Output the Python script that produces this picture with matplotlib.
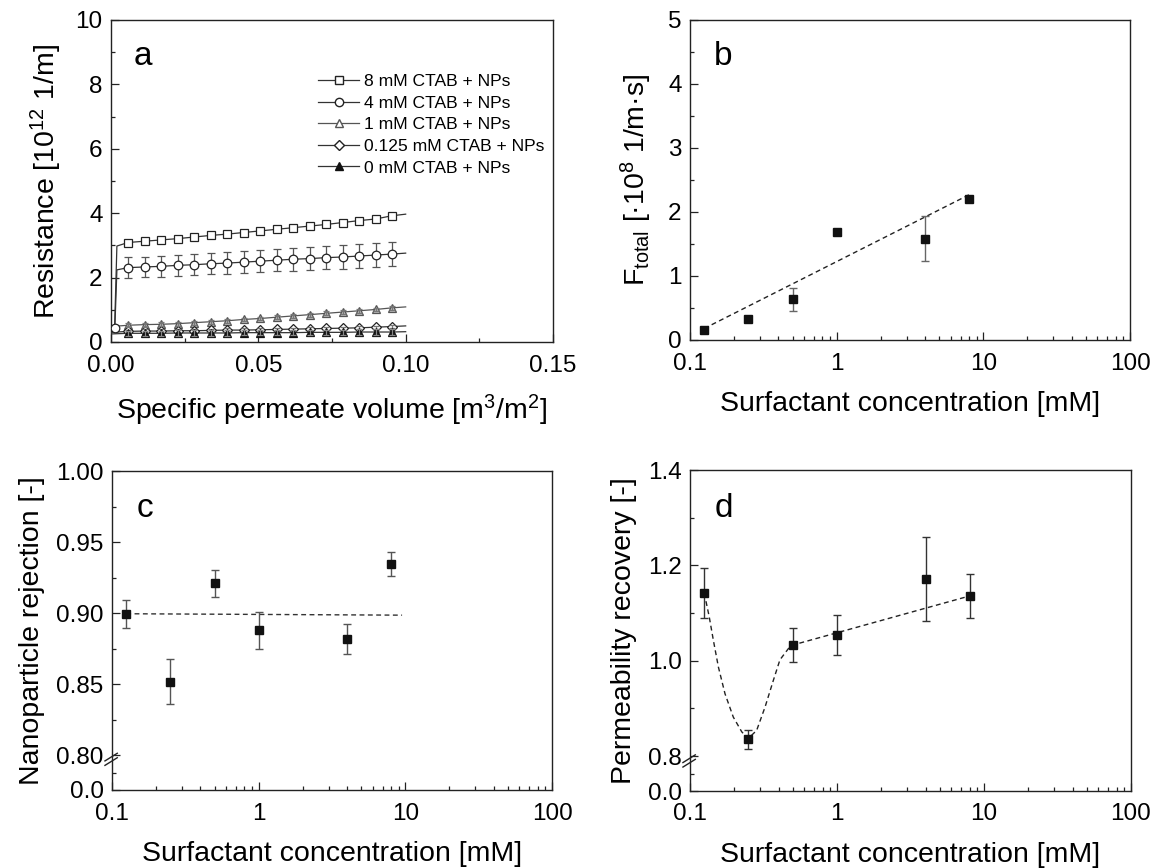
import numpy as np
import matplotlib
matplotlib.use("Agg")
import matplotlib.pyplot as plt
from matplotlib.lines import Line2D
from matplotlib.ticker import MultipleLocator, LogLocator, NullFormatter, FixedLocator

plt.rcParams['font.family'] = ['Liberation Sans', 'DejaVu Sans']
plt.rcParams['mathtext.fontset'] = 'custom'
plt.rcParams['mathtext.rm'] = 'Liberation Sans'
plt.rcParams['mathtext.it'] = 'Liberation Sans'
plt.rcParams['mathtext.default'] = 'regular'

# ---------------- Panel a data ----------------
vol_markers = [0.0058, 0.0114, 0.0170, 0.0226, 0.0282, 0.0338, 0.0394, 0.0450, 0.0506,
               0.0562, 0.0618, 0.0674, 0.0730, 0.0786, 0.0842, 0.0898, 0.0953]
vol_end = 0.100

R_8 = [3.09, 3.13, 3.17, 3.21, 3.26, 3.31, 3.35, 3.40, 3.45, 3.50, 3.55, 3.60, 3.65,
       3.71, 3.77, 3.82, 3.92]
R_8_start_x = [0.0012, 0.0020]
R_8_start_y = [0.35, 2.98]
R_8_end = 3.97

R_4 = [2.31, 2.33, 2.35, 2.38, 2.40, 2.43, 2.45, 2.48, 2.51, 2.54, 2.57, 2.59, 2.62,
       2.64, 2.67, 2.70, 2.73]
R_4_err = [0.32, 0.32, 0.32, 0.33, 0.33, 0.33, 0.33, 0.34, 0.34, 0.34, 0.35, 0.35, 0.35,
           0.36, 0.36, 0.36, 0.37]
R_4_start_x = [0.0013, 0.0020]
R_4_start_y = [0.43, 2.24]
R_4_end = 2.76

R_1 = [0.52, 0.54, 0.55, 0.57, 0.60, 0.63, 0.66, 0.70, 0.73, 0.77, 0.81, 0.85, 0.89,
       0.93, 0.97, 1.01, 1.06]
R_1_err = [0.06] * 17
R_1_start = 0.48
R_1_end = 1.09

R_0125 = [0.33, 0.34, 0.34, 0.35, 0.35, 0.36, 0.37, 0.37, 0.38, 0.39, 0.40, 0.41, 0.42,
          0.43, 0.44, 0.46, 0.48]
R_0125_err = [0.05] * 17
R_0125_start = 0.30
R_0125_end = 0.50

R_0 = [0.27, 0.27, 0.27, 0.28, 0.28, 0.28, 0.28, 0.29, 0.29, 0.29, 0.29, 0.30, 0.30,
       0.30, 0.31, 0.31, 0.31]
R_0_err = [0.08] * 17
R_0_start = 0.25
R_0_end = 0.32

legend_labels = ['8 mM CTAB + NPs', '4 mM CTAB + NPs', '1 mM CTAB + NPs',
                 '0.125 mM CTAB + NPs', '0 mM CTAB + NPs']

# ---------------- Panels b-d data ----------------
conc = [0.125, 0.25, 0.5, 1.0, 4.0, 8.0]

F_total = [0.16, 0.33, 0.64, 1.68, 1.58, 2.21]
F_total_err = [0.0, 0.0, 0.18, 0.0, 0.35, 0.0]
F_fit_x = [0.125, 8.0]
F_fit_y = [0.18, 2.27]

rejection = [0.8995, 0.8516, 0.9210, 0.8878, 0.8817, 0.9344]
rejection_err = [0.010, 0.016, 0.0095, 0.013, 0.0105, 0.0086]
rej_fit_x = [0.125, 9.5]
rej_fit_y = [0.8995, 0.8985]

recovery = [1.142, 0.835, 1.033, 1.054, 1.171, 1.136]
recovery_err = [0.052, 0.019, 0.035, 0.041, 0.088, 0.047]
rec_curve_x = [0.125, 0.135, 0.144, 0.156, 0.173, 0.197, 0.225, 0.249, 0.284, 0.324,
               0.369, 0.409, 0.479, 0.5, 8.0]
rec_curve_y = [1.142, 1.093, 1.044, 0.987, 0.931, 0.882, 0.851, 0.837, 0.854, 0.903,
               0.959, 1.002, 1.030, 1.033, 1.136]

# ---------------- Figure ----------------
fig = plt.figure(figsize=(11.51, 8.68), dpi=100)
W, H = 1151, 868

def add_ax(l, r, t, b):
    return fig.add_axes([l / W, (H - b) / H, (r - l) / W, (b - t) / H])

axA = add_ax(111, 553, 20, 342)
axB = add_ax(690, 1130, 20, 340)
axC = add_ax(112, 552, 471, 790)
axD = add_ax(690, 1131, 470, 791)

TICK_FS = 17.5
LABEL_FS = 20.5
LETTER_FS = 24

for ax in (axA, axB, axC, axD):
    for s in ax.spines.values():
        s.set_linewidth(1.0)
        s.set_color('#222222')
    ax.tick_params(which='both', direction='in', top=False, right=False,
                   labelsize=TICK_FS, width=0.9, color='#222222')
    ax.tick_params(axis='x', which='both', pad=9)
    ax.tick_params(axis='y', which='both', pad=6)
    ax.tick_params(which='major', length=5.5)
    ax.tick_params(which='minor', length=2.8)

LC = '#333333'
EC = '#555555'

# ---- Panel a ----
def series_line(sx, sy, ys, yend):
    return list(sx) + list(vol_markers) + [vol_end], list(sy) + list(ys) + [yend]

lx, ly = series_line(R_8_start_x, R_8_start_y, R_8, R_8_end)
axA.plot(lx, ly, color=LC, lw=0.9, zorder=3)
axA.plot(vol_markers, R_8, ls='none', marker='s', ms=5.2, mfc='white', mec='#222222',
         mew=0.9, zorder=4)

lx, ly = series_line(R_4_start_x, R_4_start_y, R_4, R_4_end)
axA.plot(lx, ly, color=LC, lw=0.9, zorder=3)
axA.errorbar(vol_markers, R_4, yerr=R_4_err, fmt='none', ecolor=EC, elinewidth=0.9,
             capsize=2.6, capthick=0.9, zorder=3)
axA.plot(vol_markers, R_4, ls='none', marker='o', ms=6.2, mfc='white', mec='#222222',
         mew=0.9, zorder=4)
axA.plot([R_4_start_x[0]], [R_4_start_y[0]], ls='none', marker='o', ms=6.2, mfc='white',
         mec='#222222', mew=0.9, zorder=4)

lx, ly = series_line([0.0], [R_1_start], R_1, R_1_end)
axA.plot(lx, ly, color='#555555', lw=0.9, zorder=3)
axA.plot(vol_markers, R_1, ls='none', marker='^', ms=6.0, mfc='#bbbbbb', mec='#555555',
         mew=0.9, zorder=4)
axA.errorbar(vol_markers, R_1, yerr=R_1_err, fmt='none', ecolor='#777777', elinewidth=0.9,
             capsize=2.4, capthick=0.9, zorder=5)

lx, ly = series_line([0.0], [R_0125_start], R_0125, R_0125_end)
axA.plot(lx, ly, color=LC, lw=0.9, zorder=3)
axA.plot(vol_markers, R_0125, ls='none', marker='D', ms=4.6, mfc='white', mec='#222222',
         mew=0.9, zorder=4)
axA.errorbar(vol_markers, R_0125, yerr=R_0125_err, fmt='none', ecolor='#777777',
             elinewidth=0.9, capsize=2.4, capthick=0.9, zorder=5)

lx, ly = series_line([0.0], [R_0_start], R_0, R_0_end)
axA.plot(lx, ly, color=LC, lw=0.9, zorder=3)
axA.plot(vol_markers, R_0, ls='none', marker='^', ms=6.0, mfc='#111111', mec='#111111',
         mew=0.9, zorder=6)
axA.errorbar(vol_markers, R_0, yerr=R_0_err, fmt='none', ecolor='#888888', elinewidth=0.9,
             capsize=2.4, capthick=0.9, zorder=7)

axA.set_xlim(0, 0.15)
axA.set_ylim(0, 10)
axA.xaxis.set_major_locator(MultipleLocator(0.05))
axA.xaxis.set_minor_locator(MultipleLocator(0.025))
axA.yaxis.set_major_locator(MultipleLocator(2))
axA.yaxis.set_minor_locator(MultipleLocator(1))
axA.set_xticks([0.0, 0.05, 0.10, 0.15])
axA.set_xticklabels(['0.00', '0.05', '0.10', '0.15'])
axA.set_xlabel('Specific permeate volume [m$^3$/m$^2$]', fontsize=LABEL_FS, labelpad=12)
axA.set_ylabel('Resistance [10$^{12}$ 1/m]', fontsize=LABEL_FS, labelpad=8)
axA.text(0.052, 0.86, 'a', transform=axA.transAxes, fontsize=LETTER_FS)

handles = [
    Line2D([], [], color=LC, lw=0.9, marker='s', ms=5.2, mfc='white', mec='#222222'),
    Line2D([], [], color=LC, lw=0.9, marker='o', ms=6.0, mfc='white', mec='#222222'),
    Line2D([], [], color='#555555', lw=0.9, marker='^', ms=6.0, mfc='white', mec='#555555'),
    Line2D([], [], color=LC, lw=0.9, marker='D', ms=4.6, mfc='white', mec='#222222'),
    Line2D([], [], color=LC, lw=0.9, marker='^', ms=6.0, mfc='#111111', mec='#111111'),
]
axA.legend(handles, legend_labels, loc='upper right', bbox_to_anchor=(1.008, 0.87),
           frameon=False, fontsize=12.6, handlelength=2.3, handletextpad=0.3,
           labelspacing=0.36, borderpad=0.2)

# ---- log axes common ----
def setup_log(ax):
    ax.set_xscale('log')
    ax.set_xlim(0.1, 100)
    ax.xaxis.set_minor_locator(LogLocator(base=10, subs=np.arange(2, 10)))
    ax.xaxis.set_minor_formatter(NullFormatter())
    ax.set_xticks([0.1, 1, 10, 100])
    ax.set_xticklabels(['0.1', '1', '10', '100'])
    ax.set_xlabel('Surfactant concentration [mM]', fontsize=LABEL_FS, labelpad=12)

# ---- Panel b ----
setup_log(axB)
axB.plot(F_fit_x, F_fit_y, color='#222222', lw=1.0, ls=(0, (3.5, 2.5)), zorder=2)
axB.errorbar(conc, F_total, yerr=F_total_err, fmt='none', ecolor='#666666',
             elinewidth=1.0, capsize=3.2, capthick=1.0, zorder=3)
axB.plot(conc, F_total, ls='none', marker='s', ms=6.2, mfc='#111111', mec='#111111', zorder=4)
axB.set_ylim(0, 5)
axB.yaxis.set_major_locator(MultipleLocator(1))
axB.yaxis.set_minor_locator(MultipleLocator(0.5))
axB.set_ylabel('F$_{total}$ [·10$^{8}$ 1/m·s]', fontsize=LABEL_FS, labelpad=10)
axB.text(0.055, 0.86, 'b', transform=axB.transAxes, fontsize=LETTER_FS)

# ---- broken axis helper ----
def break_marks(ax, yfrac):
    for dy in (-0.007, 0.007):
        ax.plot([-0.016, 0.012], [yfrac + dy - 0.012, yfrac + dy + 0.012],
                transform=ax.transAxes, color='#222222', lw=1.0, clip_on=False, zorder=10)

# ---- Panel c ----
setup_log(axC)
C_Y0 = 0.7754
axC.plot(rej_fit_x, rej_fit_y, color='#333333', lw=1.0, ls=(0, (3.5, 2.5)), zorder=2)
axC.errorbar(conc, rejection, yerr=rejection_err, fmt='none', ecolor='#555555',
             elinewidth=1.0, capsize=3.2, capthick=1.0, zorder=3)
axC.plot(conc, rejection, ls='none', marker='s', ms=6.2, mfc='#111111', mec='#111111', zorder=4)
axC.set_ylim(C_Y0, 1.0)
axC.yaxis.set_major_locator(FixedLocator([C_Y0, 0.80, 0.85, 0.90, 0.95, 1.00]))
axC.set_yticklabels(['0.0', '0.80', '0.85', '0.90', '0.95', '1.00'])
axC.yaxis.set_minor_locator(FixedLocator([(C_Y0 + 0.80) / 2, 0.825, 0.875, 0.925, 0.975]))
axC.set_ylabel('Nanoparticle rejection [-]', fontsize=LABEL_FS, labelpad=8)
axC.text(0.055, 0.855, 'c', transform=axC.transAxes, fontsize=LETTER_FS)
break_marks(axC, (0.797 - C_Y0) / (1.0 - C_Y0))

# ---- Panel d ----
setup_log(axD)
D_Y0 = 0.727
axD.plot(rec_curve_x, rec_curve_y, color='#222222', lw=1.0, ls=(0, (3.5, 2.5)), zorder=2)
axD.errorbar(conc, recovery, yerr=recovery_err, fmt='none', ecolor='#333333',
             elinewidth=1.0, capsize=3.2, capthick=1.0, zorder=3)
axD.plot(conc, recovery, ls='none', marker='s', ms=6.2, mfc='#111111', mec='#111111', zorder=4)
axD.set_ylim(D_Y0, 1.4)
axD.yaxis.set_major_locator(FixedLocator([D_Y0, 0.8, 1.0, 1.2, 1.4]))
axD.set_yticklabels(['0.0', '0.8', '1.0', '1.2', '1.4'])
axD.yaxis.set_minor_locator(FixedLocator([(D_Y0 + 0.8) / 2, 0.9, 1.1, 1.3]))
axD.set_ylabel('Permeability recovery [-]', fontsize=LABEL_FS, labelpad=8)
axD.text(0.055, 0.855, 'd', transform=axD.transAxes, fontsize=LETTER_FS)
break_marks(axD, (0.79 - D_Y0) / (1.4 - D_Y0))

fig.savefig('out.png', dpi=100, facecolor='white')
